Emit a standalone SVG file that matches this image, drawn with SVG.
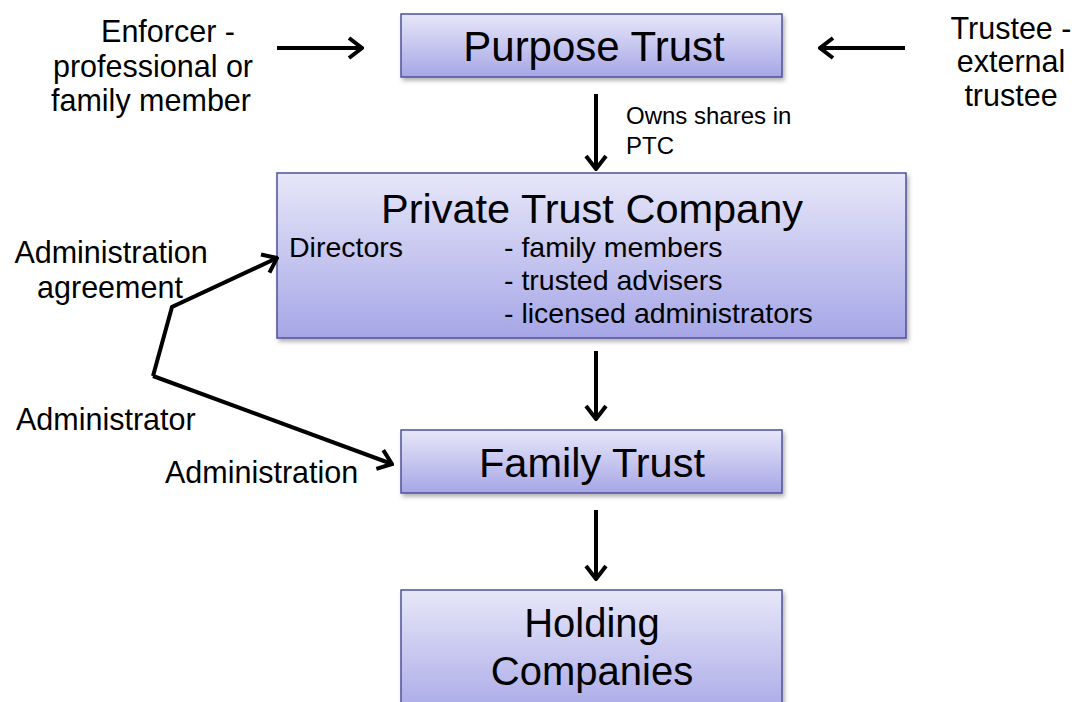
<svg xmlns="http://www.w3.org/2000/svg" width="1076" height="702" viewBox="0 0 1076 702">
  <defs>
    <linearGradient id="boxFill" x1="0" y1="0" x2="0" y2="1">
      <stop offset="0" stop-color="#e7e7f9"/>
      <stop offset="1" stop-color="#a6a6e7"/>
    </linearGradient>
    <filter id="shadow" x="-5%" y="-10%" width="110%" height="130%">
      <feDropShadow dx="2" dy="3" stdDeviation="2" flood-color="#000" flood-opacity="0.3"/>
    </filter>
    <marker id="head" viewBox="-17 -13 19 26" refX="0" refY="0" markerWidth="19" markerHeight="26" markerUnits="userSpaceOnUse" orient="auto-start-reverse">
      <path d="M-13,-10 L0,0 L-13,10" fill="none" stroke="#000" stroke-width="4" stroke-linejoin="miter"/>
    </marker>
  </defs>
  <style>
    .box { fill: url(#boxFill); stroke: #4f4f9c; stroke-width: 1.5; filter: url(#shadow); }
    .title { font-family: "Liberation Sans", Arial, sans-serif; fill: #000; text-anchor: middle; }
    .label { font-family: "Liberation Sans", Arial, sans-serif; fill: #000; font-size: 30.5px; }
    .body { font-family: "Liberation Sans", Arial, sans-serif; fill: #000; font-size: 28.5px; }
    .note { font-family: "Liberation Sans", Arial, sans-serif; fill: #000; font-size: 24px; }
    .mid { text-anchor: middle; }
    .link { fill: none; stroke: #000; stroke-width: 4; marker-end: url(#head); }
  </style>
  <rect width="1076" height="702" fill="#fff"/>

  <!-- Purpose Trust -->
  <g id="purpose-trust">
    <rect class="box" x="401" y="14" width="381" height="63"/>
    <text class="title" x="594" y="61" font-size="42">Purpose Trust</text>
  </g>

  <!-- Private Trust Company -->
  <g id="private-trust-company">
    <rect class="box" x="277" y="173" width="629" height="165"/>
    <text class="title" x="592" y="223" font-size="41.5">Private Trust Company</text>
    <text class="body" x="289" y="257">Directors</text>
    <text class="body" x="504" y="257">- family members</text>
    <text class="body" x="504" y="290">- trusted advisers</text>
    <text class="body" x="504" y="323">- licensed administrators</text>
  </g>

  <!-- Family Trust -->
  <g id="family-trust">
    <rect class="box" x="401" y="430" width="381" height="63"/>
    <text class="title" x="592" y="477" font-size="41.5">Family Trust</text>
  </g>

  <!-- Holding Companies -->
  <g id="holding-companies">
    <rect class="box" x="401" y="590" width="381" height="130"/>
    <text class="title" x="592" y="637" font-size="40">Holding</text>
    <text class="title" x="592" y="685" font-size="40">Companies</text>
  </g>

  <!-- Enforcer -->
  <g id="enforcer">
    <text class="label mid" x="168" y="42">Enforcer -</text>
    <text class="label mid" x="153" y="77">professional or</text>
    <text class="label mid" x="151" y="111">family member</text>
  </g>

  <!-- Trustee -->
  <g id="trustee">
    <text class="label mid" x="1011" y="39">Trustee -</text>
    <text class="label mid" x="1011" y="72">external</text>
    <text class="label mid" x="1011" y="106">trustee</text>
  </g>

  <!-- Administrator -->
  <g id="administrator">
    <text class="label" x="16" y="430">Administrator</text>
  </g>

  <!-- Connectors -->
  <g id="connectors">
    <path class="link" d="M277,48 L362,48"/>
    <path class="link" d="M905,48 L820,48"/>
    <path class="link" d="M596,94 L596,169"/>
    <path class="link" d="M596,351 L596,419"/>
    <path class="link" d="M596,510 L596,579"/>
    <path class="link" d="M153,376 L392,464"/>
    <path class="link" d="M153,376 L172,307 L277,258"/>
    <text class="note" x="626" y="124">Owns shares in</text>
    <text class="note" x="626" y="154">PTC</text>
    <text class="label mid" x="111" y="263">Administration</text>
    <text class="label mid" x="110" y="298">agreement</text>
    <text class="label" x="165" y="483">Administration</text>
  </g>
</svg>
